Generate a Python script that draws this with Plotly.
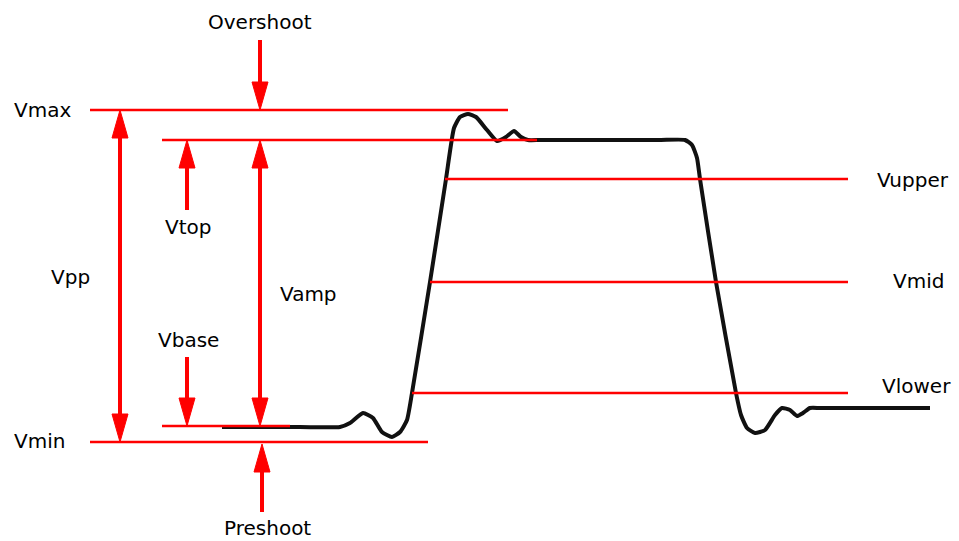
import plotly.graph_objects as go

# Waveform trace (pixel-space diagram coordinates)
wave_x = [222, 300, 340, 350, 363, 373, 382, 392, 400, 407, 412, 430, 446, 454, 460, 468, 476, 487, 497, 506,
          514, 521, 528, 540, 600, 660, 685, 692, 697, 700, 716, 736, 741, 747, 755, 765, 775, 782, 790, 797,
          803, 810, 820, 880, 930]
wave_y = [427, 427, 427, 423, 413, 418, 432, 437, 432, 420, 393, 282, 179, 128, 117, 114, 117, 130, 141, 137,
          131, 137, 140, 140, 140, 140, 140, 145, 158, 179, 282, 393, 415, 428, 433, 430, 415, 408, 410, 416,
          413, 408, 408, 408, 408]

# Reference levels
level_names = ["Vmax", "Vtop", "Vupper", "Vmid", "Vlower", "Vbase", "Vmin"]
level_values = [110, 140, 179, 282, 393, 426, 442]
level_x0 = [90, 162, 445, 430, 412, 162, 90]
level_x1 = [508, 537, 848, 848, 848, 290, 428]

# Labels
label_text = ["Overshoot", "Vmax", "Vmin", "Vpp", "Vtop", "Vamp", "Vbase", "Preshoot", "Vupper", "Vmid", "Vlower"]
label_x = [260, 12, 12, 70, 188, 308, 188, 267, 913, 918, 916]
label_y = [22, 110, 441, 277, 227, 294, 340, 528, 180, 281, 386]
label_anchor = ["center", "left", "left", "center", "center", "center", "center", "center", "center", "center", "center"]

RED = "#ff0000"
lv = dict(zip(level_names, level_values))

fig = go.Figure()
fig.add_trace(go.Scatter(x=wave_x, y=wave_y, mode="lines",
                         line=dict(color="#111111", width=4, shape="spline", smoothing=0.5),
                         hoverinfo="skip", showlegend=False))

shapes = []
for n, v, a, b in zip(level_names, level_values, level_x0, level_x1):
    shapes.append(dict(type="line", x0=a, x1=b, y0=v, y1=v, line=dict(color=RED, width=2.5), layer="above"))

HL, HW = 28, 8


def head(x, tip, direction):
    # direction: -1 => pointing up (tip above base), +1 => pointing down
    base = tip - direction * HL
    return dict(type="path", path=f"M {x-HW} {base} L {x+HW} {base} L {x} {tip} Z",
                fillcolor=RED, line=dict(color=RED, width=1), layer="above")


def arrow(x, start, tip):
    d = 1 if tip > start else -1
    shapes.append(dict(type="line", x0=x, x1=x, y0=start, y1=tip - d * (HL - 2),
                       line=dict(color=RED, width=4), layer="above"))
    shapes.append(head(x, tip, d))


def double_arrow(x, top, bottom):
    shapes.append(dict(type="line", x0=x, x1=x, y0=top + HL - 2, y1=bottom - HL + 2,
                       line=dict(color=RED, width=4), layer="above"))
    shapes.append(head(x, top, -1))
    shapes.append(head(x, bottom, 1))


double_arrow(120, lv["Vmax"], lv["Vmin"])
double_arrow(260, lv["Vtop"], lv["Vbase"])
arrow(260, 40, lv["Vmax"])
arrow(262, 512, lv["Vmin"] + 2)
arrow(187, 210, lv["Vtop"])
arrow(187, 357, lv["Vbase"])

annotations = []
for t, x, y, an in zip(label_text, label_x, label_y, label_anchor):
    annotations.append(dict(x=x, y=y, text=t, showarrow=False, xanchor=an, yanchor="middle",
                            font=dict(family="DejaVu Sans", size=20, color="#000000")))

fig.update_layout(
    width=959, height=541,
    margin=dict(l=0, r=0, t=0, b=0),
    paper_bgcolor="white", plot_bgcolor="white",
    xaxis=dict(range=[0, 959], visible=False, fixedrange=True),
    yaxis=dict(range=[541, 0], visible=False, fixedrange=True),
    shapes=shapes, annotations=annotations, showlegend=False,
)
fig.write_html("out.html", config={"displayModeBar": False, "staticPlot": True},
               post_script="document.body.style.margin='0';document.body.style.overflow='hidden';"
                           "document.documentElement.style.overflow='hidden';")
